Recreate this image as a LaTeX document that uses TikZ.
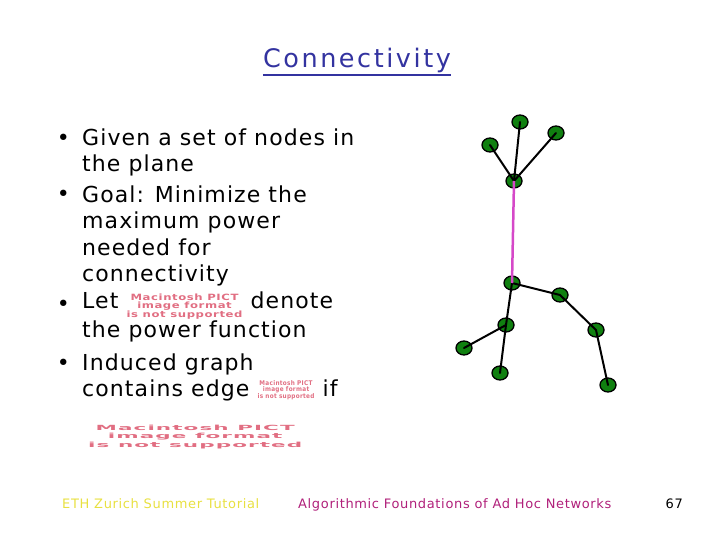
\documentclass[tikz,border=0pt]{standalone}
\usepackage{fontspec}
\setmainfont[LetterSpace=5]{DejaVu Sans}
\newfontfamily\titlefont[LetterSpace=10]{DejaVu Sans}
\usetikzlibrary{positioning,shapes.geometric}
\definecolor{titleblue}{RGB}{51,51,160}
\definecolor{pictred}{RGB}{225,110,130}
\definecolor{nodegreen}{RGB}{16,128,16}
\definecolor{longedge}{RGB}{213,72,200}
\definecolor{footyellow}{RGB}{232,224,64}
\definecolor{footpurple}{RGB}{176,32,122}
\newcommand{\pictbox}[3]{\raisebox{#3}{\resizebox{#1}{#2}{\color{pictred}\bfseries\shortstack{Macintosh PICT\\image format\\is not supported}}}}

\begin{document}
\begin{tikzpicture}[x=1pt, y=-1pt,
    item/.style={anchor=base west, align=left, inner sep=0pt,
                 font=\fontsize{22}{26.5}\selectfont},
    bul/.style={anchor=base east, inner sep=0pt, font=\fontsize{22}{26.5}\selectfont},
    station/.style={ellipse, draw=black, line width=1.3pt, fill=nodegreen,
                    minimum width=16pt, minimum height=14pt, inner sep=0pt},
    link/.style={black, line width=2pt, line cap=round},
    far/.style={longedge, line width=2.5pt},
    foot/.style={anchor=base west, inner sep=0pt, font=\fontsize{13}{15}\selectfont}]
\useasboundingbox (0,0) rectangle (720,540);

% title
\node[anchor=base, inner sep=0pt, text=titleblue,
      font=\titlefont\fontsize{25.5}{30}\selectfont] (title) at (357,68) {Connectivity};
\draw[titleblue, line width=1.8pt] ([yshift=-7pt]title.base west) -- ([yshift=-7pt]title.base east);

% bullets (base = last line)
\node[item] (i1) at (82,172) {Given a set of nodes in\\the plane};
\node[item] (i2) at (82,281.5) {Goal: Minimize the\\maximum power\\needed for\\connectivity};
\node[item] (i3) at (82,337.5) {Let \pictbox{116pt}{24pt}{-9pt} denote\\the power function};
\node[item] (i4) at (82,396.5) {Induced graph\\contains edge \pictbox{57pt}{18pt}{-2pt} if};
\node[bul] (b1) at (70,146) {\textbullet};
\node[bul] (b2) at (70,202) {\textbullet};
\node[bul] (b3) at (70,311) {\textbullet};
\node[bul] (b4) at (70,370) {\textbullet};
\node[anchor=north west, inner sep=0pt] (cond) at (88,425) {\pictbox{214pt}{22pt}{0pt}};

% network
\node[station] (n1) at (520,122) {};
\node[station] (n2) at (556,133) {};
\node[station] (n3) at (490,145) {};
\node[station] (h1) at (514,181) {};
\node[station] (h2) at (512,283) {};
\node[station] (r1) at (560,295) {};
\node[station] (r2) at (596,330) {};
\node[station] (r3) at (608,385) {};
\node[station] (l1) at (506,325) {};
\node[station] (l2) at (464,348) {};
\node[station] (l3) at (500,373) {};
\draw[link] (n1.center) -- (h1.center);
\draw[link] (n2.center) -- (h1.center);
\draw[link] (n3.center) -- (h1.center);
\draw[link] (h2.center) -- (r1.center) -- (r2.center) -- (r3.center);
\draw[link] (h2.center) -- (l1.center) -- (l3.center);
\draw[link] (l1.center) -- (l2.center);
\draw[far] (h1.center) -- (h2.center);

% footer
\node[foot, text=footyellow] (ftl) at (62,508) {ETH Zurich Summer Tutorial};
\node[foot, text=footpurple] (ftm) at (298,508) {Algorithmic Foundations of Ad Hoc Networks};
\node[foot, anchor=base east] (ftr) at (683,508) {67};
\end{tikzpicture}
\end{document}
